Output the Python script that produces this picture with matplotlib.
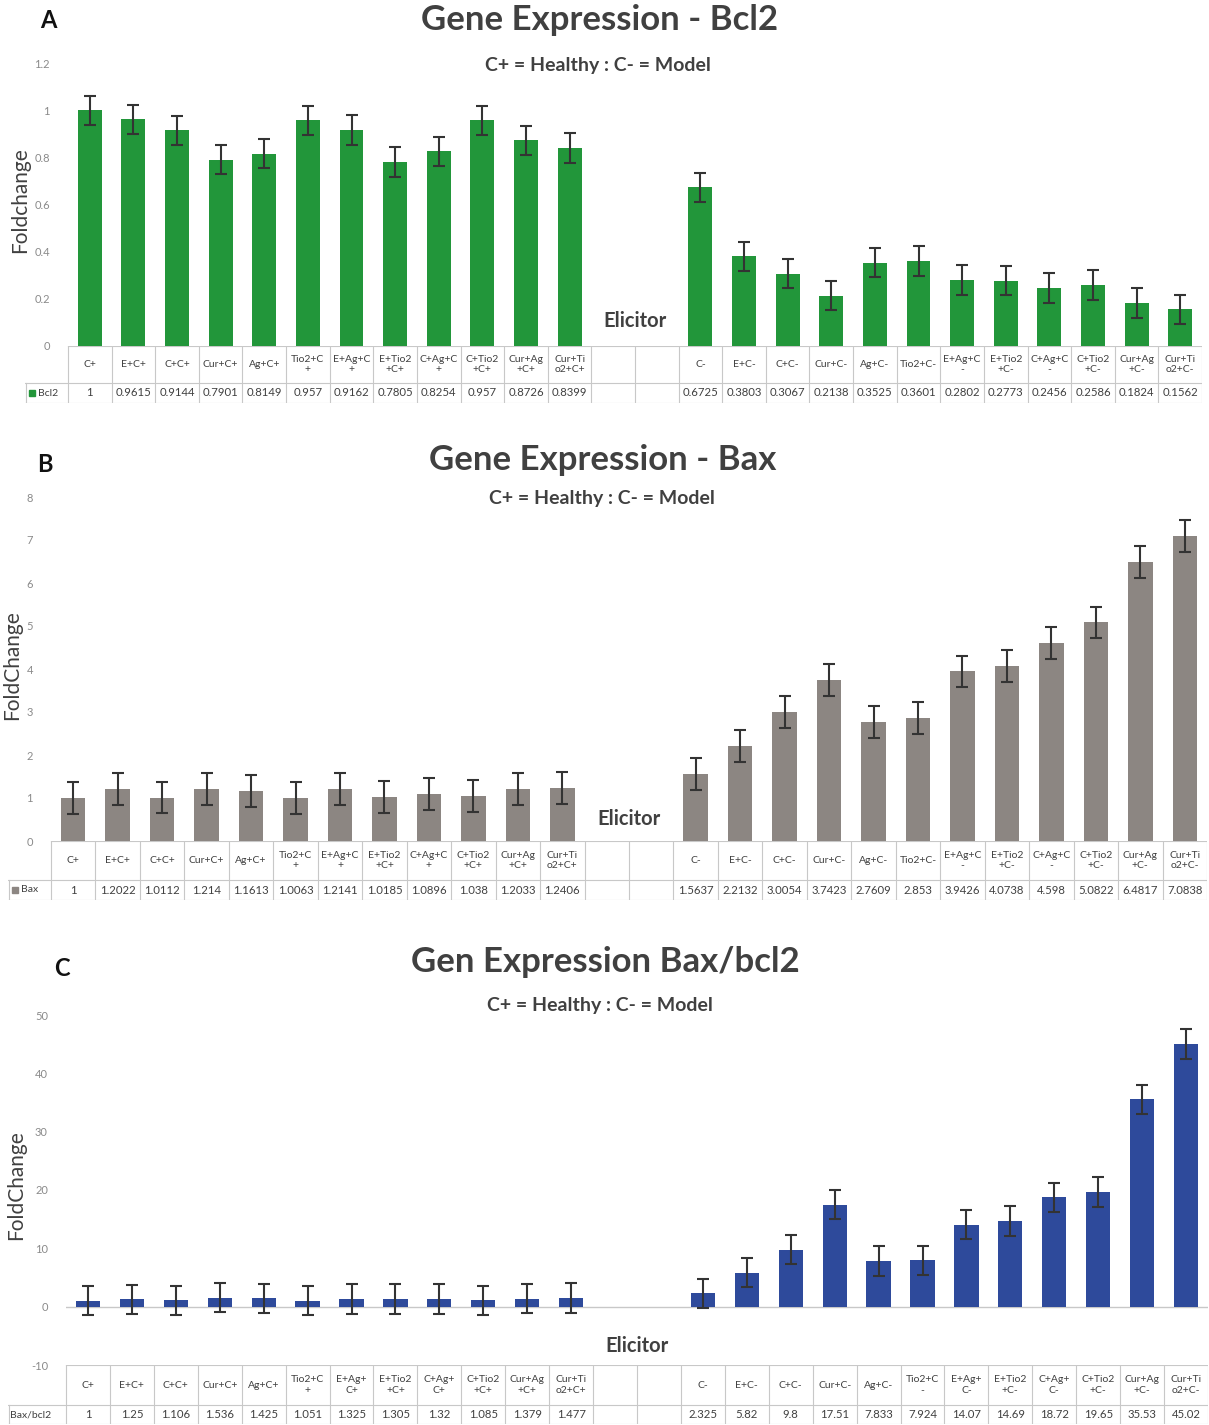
import matplotlib
matplotlib.use("Agg")
import matplotlib.pyplot as plt
from matplotlib.patches import Rectangle

plt.rcParams['font.family'] = ['Lato', 'DejaVu Sans']

# ---- data -------------------------------------------------------------
hdr_pos_ab = ["C+", "E+C+", "C+C+", "Cur+C+", "Ag+C+", "Tio2+C\n+", "E+Ag+C\n+",
              "E+Tio2\n+C+", "C+Ag+C\n+", "C+Tio2\n+C+", "Cur+Ag\n+C+", "Cur+Ti\no2+C+"]
hdr_neg_ab = ["C-", "E+C-", "C+C-", "Cur+C-", "Ag+C-", "Tio2+C-", "E+Ag+C\n-",
              "E+Tio2\n+C-", "C+Ag+C\n-", "C+Tio2\n+C-", "Cur+Ag\n+C-", "Cur+Ti\no2+C-"]
hdr_pos_c = ["C+", "E+C+", "C+C+", "Cur+C+", "Ag+C+", "Tio2+C\n+", "E+Ag+\nC+",
             "E+Tio2\n+C+", "C+Ag+\nC+", "C+Tio2\n+C+", "Cur+Ag\n+C+", "Cur+Ti\no2+C+"]
hdr_neg_c = ["C-", "E+C-", "C+C-", "Cur+C-", "Ag+C-", "Tio2+C\n-", "E+Ag+\nC-",
             "E+Tio2\n+C-", "C+Ag+\nC-", "C+Tio2\n+C-", "Cur+Ag\n+C-", "Cur+Ti\no2+C-"]

bcl2_pos = [1, 0.9615, 0.9144, 0.7901, 0.8149, 0.957, 0.9162, 0.7805, 0.8254, 0.957, 0.8726, 0.8399]
bcl2_neg = [0.6725, 0.3803, 0.3067, 0.2138, 0.3525, 0.3601, 0.2802, 0.2773, 0.2456, 0.2586, 0.1824, 0.1562]
bcl2_err = 0.062

bax_pos = [1, 1.2022, 1.0112, 1.214, 1.1613, 1.0063, 1.2141, 1.0185, 1.0896, 1.038, 1.2033, 1.2406]
bax_neg = [1.5637, 2.2132, 3.0054, 3.7423, 2.7609, 2.853, 3.9426, 4.0738, 4.598, 5.0822, 6.4817, 7.0838]
bax_err = 0.37

ratio_pos = [1, 1.25, 1.106, 1.536, 1.425, 1.051, 1.325, 1.305, 1.32, 1.085, 1.379, 1.477]
ratio_neg = [2.325, 5.82, 9.8, 17.51, 7.833, 7.924, 14.07, 14.69, 18.72, 19.65, 35.53, 45.02]
ratio_err = 2.5

# ---- layout helpers ---------------------------------------------------
W, H = 1209, 1425
fig = plt.figure(figsize=(W / 100, H / 100), dpi=100)
TXT = '#404040'
GRID = '#c8c8c8'

def fbox(x0, y0, x1, y1):
    return [x0 / W, 1 - y1 / H, (x1 - x0) / W, (y1 - y0) / H]

def ftext(x, y, s, **kw):
    fig.text(x / W, 1 - y / H, s, **kw)

N = 26
pos_x = list(range(0, 12))
neg_x = list(range(14, 26))


def panel(letter, letter_xy, title, title_xy, sub_xy, plot_px, ylim, yticks,
          ylabel, ylabel_xy, vals_pos, vals_neg, err, color, hdr_pos, hdr_neg,
          header_bottom, table_bottom, leg_left, leg_name, leg_patch,
          elic_y, zero_line=False):
    x0, y0, x1, y1 = plot_px
    ftext(*letter_xy, letter, fontsize=17, fontweight='bold', color='#111111',
          ha='center', va='center')
    ftext(*title_xy, title, fontsize=25, fontweight='bold', color=TXT,
          ha='center', va='center')
    ftext(*sub_xy, "C+ = Healthy : C- = Model", fontsize=14, fontweight='bold',
          color=TXT, ha='center', va='center')
    ftext(*ylabel_xy, ylabel, fontsize=15, color=TXT, rotation=90,
          ha='center', va='center')

    ax = fig.add_axes(fbox(x0, y0, x1, y1))
    ax.set_xlim(-0.5, N - 0.5)
    ax.set_ylim(*ylim)
    ax.bar(pos_x, vals_pos, width=0.55, color=color, zorder=2)
    ax.bar(neg_x, vals_neg, width=0.55, color=color, zorder=2)
    ax.errorbar(pos_x + neg_x, vals_pos + vals_neg, yerr=err, fmt='none',
                ecolor='#333333', elinewidth=1.5, capsize=4, capthick=1.5, zorder=3)
    if zero_line:
        ax.axhline(0, color=GRID, lw=1, zorder=1)
    ax.set_yticks(yticks)
    ax.set_yticklabels([f"{t:g}" for t in yticks])
    ax.tick_params(axis='y', length=0, pad=13, labelsize=8, labelcolor='#8a8a8a')
    ax.set_xticks([])
    for s in ax.spines.values():
        s.set_visible(False)
    ax.patch.set_alpha(0)
    ax.text(12.5, elic_y, "Elicitor", fontsize=14.5, fontweight='bold', color=TXT,
            ha='center', va='center')

    # ---- data table below the bars ----
    upx = (x1 - x0) / N                      # pixels per category
    leg_w = (x0 - leg_left) / upx           # legend column width in category units
    tax = fig.add_axes(fbox(leg_left, y1, x1, table_bottom))
    tax.set_xlim(-0.5 - leg_w, N - 0.5)
    tax.set_ylim(table_bottom, y1)
    tax.axis('off')
    lw = 0.8
    tax.plot([-0.5, N - 0.5], [y1, y1], color=GRID, lw=lw)
    tax.plot([-0.5 - leg_w, N - 0.5], [header_bottom] * 2, color=GRID, lw=lw)
    tax.plot([-0.5 - leg_w, N - 0.5], [table_bottom - 0.5] * 2, color=GRID, lw=lw)
    for k in range(N + 1):
        tax.plot([k - 0.5] * 2, [y1, table_bottom], color=GRID, lw=lw)
    tax.plot([-0.5 - leg_w + 0.02] * 2, [header_bottom, table_bottom], color=GRID, lw=lw)

    hy = (y1 + header_bottom) / 2
    vy = (header_bottom + table_bottom) / 2
    for xs, hdrs, vals in ((pos_x, hdr_pos, vals_pos), (neg_x, hdr_neg, vals_neg)):
        for x, h, v in zip(xs, hdrs, vals):
            tax.text(x, hy, h, fontsize=7.5, color=TXT, ha='center', va='center',
                     linespacing=1.25)
            tax.text(x, vy, f"{v:g}", fontsize=8.2, color=TXT, ha='center',
                     va='center')
    lx = -0.5 - leg_w + 0.1
    if leg_patch:
        sq = 6 / upx
        tax.add_patch(Rectangle((lx, vy + 3), sq, -6, color=color))
        tax.text(lx + sq + 0.05, vy, leg_name, fontsize=7.5, color=TXT,
                 ha='left', va='center')
    else:
        tax.text(lx - 0.05, vy, leg_name, fontsize=7.5, color=TXT,
                 ha='left', va='center')


panel("A", (48, 20), "Gene Expression - Bcl2", (600, 20), (598, 66),
      (68, 63, 1202, 346), (0, 1.2), [0, 0.2, 0.4, 0.6, 0.8, 1, 1.2],
      "Foldchange", (20, 200), bcl2_pos, bcl2_neg, bcl2_err, '#22963a',
      hdr_pos_ab, hdr_neg_ab, 383, 403, 25, "Bcl2", True, 0.105)

panel("B", (45, 465), "Gene Expression - Bax", (603, 460), (602, 498),
      (51, 497, 1207, 841), (0, 8), [0, 1, 2, 3, 4, 5, 6, 7, 8],
      "FoldChange", (12, 665), bax_pos, bax_neg, bax_err, '#8c8682',
      hdr_pos_ab, hdr_neg_ab, 880, 900, 8, "Bax", True, 0.51)

panel("C", (62, 968), "Gen Expression Bax/bcl2", (605, 962), (600, 1006),
      (66, 1015, 1208, 1365), (-10, 50), [-10, 0, 10, 20, 30, 40, 50],
      "FoldChange", (16, 1185), ratio_pos, ratio_neg, ratio_err, '#2e4a9b',
      hdr_pos_c, hdr_neg_c, 1405, 1424, 8, "Bax/bcl2", False, -6.7, zero_line=True)

fig.savefig("out.png", dpi=100)
